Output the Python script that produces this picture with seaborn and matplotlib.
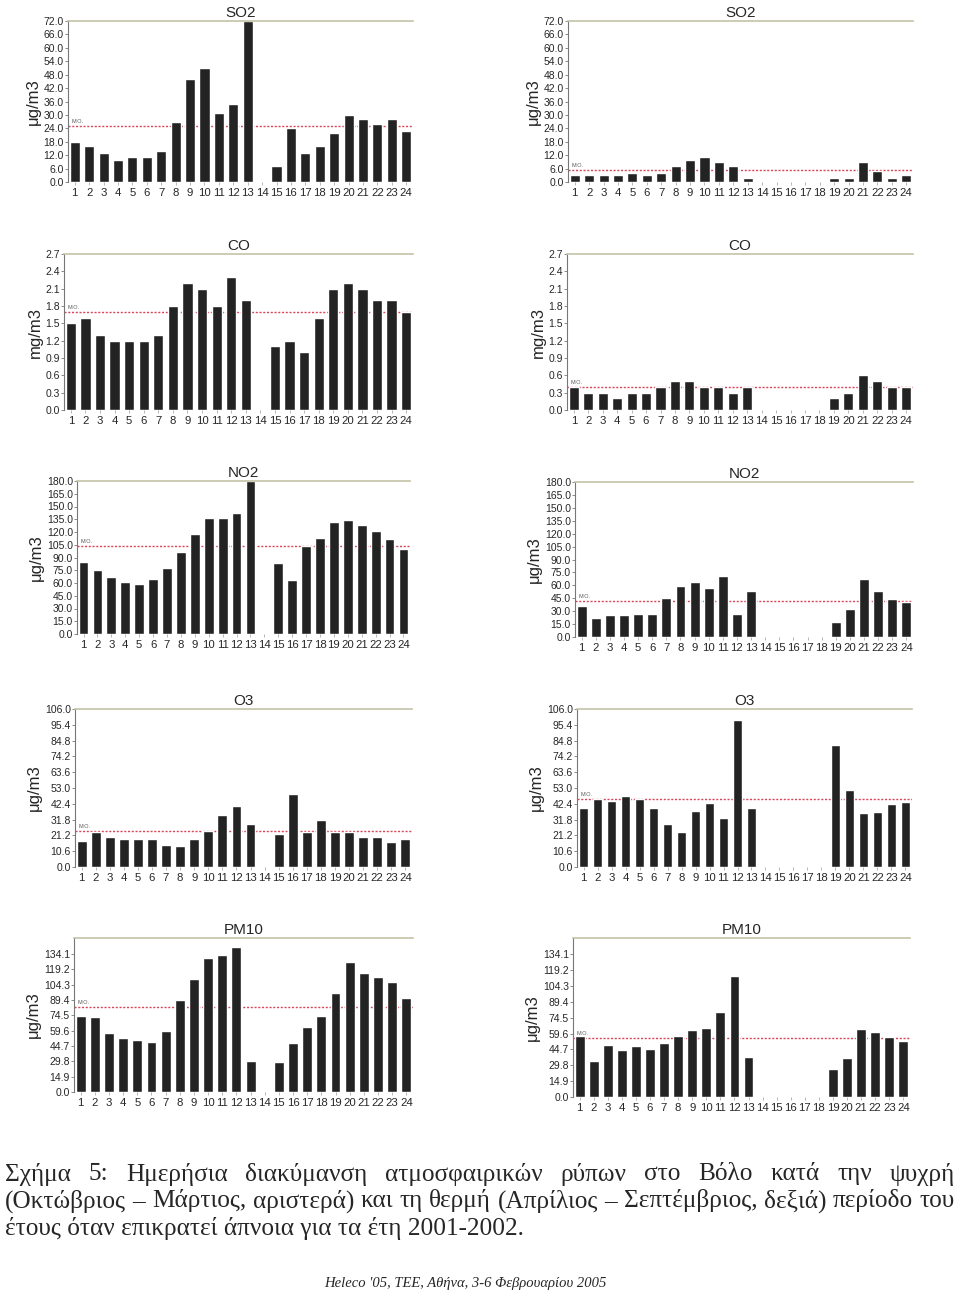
import matplotlib
matplotlib.use("Agg")
import matplotlib.pyplot as plt
import seaborn as sns
import numpy as np
import pandas as pd

nan = np.nan
hours = list(range(1, 25))

# cold period (left) / warm period (right), 24 hourly means, nan = no data
so2_cold = [18, 16, 13, 10, 11, 11, 14, 27, 46, 51, 31, 35, 72, nan, 7, 24, 13, 16, 22, 30, 28, 26, 28, 23]
so2_warm = [3, 3, 3, 3, 4, 3, 4, 7, 10, 11, 9, 7, 2, nan, nan, nan, nan, nan, 2, 2, 9, 5, 2, 3]
co_cold = [1.5, 1.6, 1.3, 1.2, 1.2, 1.2, 1.3, 1.8, 2.2, 2.1, 1.8, 2.3, 1.9, nan, 1.1, 1.2, 1.0, 1.6, 2.1, 2.2, 2.1, 1.9, 1.9, 1.7]
co_warm = [0.4, 0.3, 0.3, 0.2, 0.3, 0.3, 0.4, 0.5, 0.5, 0.4, 0.4, 0.3, 0.4, nan, nan, nan, nan, nan, 0.2, 0.3, 0.6, 0.5, 0.4, 0.4]
no2_cold = [85, 75, 67, 61, 59, 65, 78, 96, 118, 137, 136, 142, 180, nan, 83, 64, 103, 113, 132, 134, 128, 121, 112, 100]
no2_warm = [36, 22, 25, 25, 27, 27, 45, 59, 64, 57, 71, 27, 54, nan, nan, nan, nan, nan, 17, 32, 67, 53, 44, 41]
o3_cold = [17.5, 23.8, 20, 18.6, 18.6, 18.6, 14.6, 13.9, 18.6, 24.2, 34.7, 40.8, 28.7, nan, 22.4, 48.9, 23.8, 31.4, 23.8, 23.8, 20, 20, 16.8, 18.6]
o3_warm = [39.7, 45.5, 44.6, 47.7, 45.5, 39.7, 28.7, 23.8, 37.7, 42.8, 32.7, 98.4, 39.7, nan, nan, nan, nan, nan, 81.6, 51.8, 35.9, 36.8, 42.6, 43.7]
pm10_cold = [74, 73, 57, 52, 50.6, 48.7, 59, 89, 110, 130, 133, 140.6, 30, nan, 29, 48, 62.7, 74, 96, 126, 116, 112, 106.8, 91]
pm10_warm = [57, 34, 49, 44.5, 48, 45.4, 51.2, 57.2, 63, 65, 79.8, 114, 37.8, nan, nan, nan, nan, nan, 26.4, 36.9, 64, 61, 56, 52.7]

# M.O. (mean) reference lines
mo_cold = [25, 1.7, 103.5, 24, 83]
mo_warm = [5.2, 0.4, 41.7, 45.9, 55.3]

titles = ["SO2", "CO", "NO2", "O3", "PM10"]
units = ["μg/m3", "mg/m3", "μg/m3", "μg/m3", "μg/m3"]
tick_step = [6.0, 0.3, 15.0, 10.6, 14.9]
tick_max = [72.0, 2.7, 180.0, 106.0, 134.1]
y_top = [72.0, 2.7, 180.0, 106.0, 149.5]

cold = [so2_cold, co_cold, no2_cold, o3_cold, pm10_cold]
warm = [so2_warm, co_warm, no2_warm, o3_warm, pm10_warm]

W, H = 960, 1295
# axes boxes in pixels: (left, right, top, bottom)
boxes_left = [(68, 413, 21, 182), (64, 413, 254, 410), (77, 410, 481, 634), (75, 412, 709, 867), (74, 413, 938, 1092)]
boxes_right = [(568, 913, 21, 182), (567, 913, 254, 410), (575, 913, 482, 637), (577, 912, 709, 867), (573, 910, 938, 1097)]

sns.set_theme(style="white")
plt.rcParams["font.family"] = ["Liberation Sans", "DejaVu Sans"]

fig = plt.figure(figsize=(W / 100, H / 100), dpi=100)


def panel(box, values, mo, i):
    l, r, t, b = box
    ax = fig.add_axes([l / W, 1 - b / H, (r - l) / W, (b - t) / H])
    df = pd.DataFrame({"hour": hours, "value": values})
    sns.barplot(data=df, x="hour", y="value", order=hours, color="#232323",
                saturation=1, width=0.7, errorbar=None, ax=ax)
    ax.set_xlim(-0.47, 23.47)
    ax.set_ylim(0, y_top[i])
    ticks = np.round(np.arange(0, tick_max[i] + 1e-6, tick_step[i]), 2)
    ax.set_yticks(ticks)
    ax.set_yticklabels([f"{v:.1f}" for v in ticks])
    ax.axhline(mo, color="#d9465a", lw=1.0, ls=(0, (1.5, 1.2)), zorder=0.5)
    ax.text(-0.2, mo + y_top[i] * 0.012, "M.O.", fontsize=4, color="#555555", va="bottom")
    ax.set_title(titles[i], fontsize=11, pad=3)
    ax.set_xlabel("")
    ax.set_ylabel(units[i], fontsize=12, labelpad=2)
    for s in ["right", "bottom"]:
        ax.spines[s].set_visible(False)
    ax.spines["top"].set_color("#c3c3a8")
    ax.spines["top"].set_linewidth(1.2)
    ax.spines["left"].set_color("#777777")
    ax.spines["left"].set_linewidth(0.8)
    ax.tick_params(axis="y", labelsize=7.5, length=2, width=0.6, pad=1, left=True, color="#777777")
    ax.tick_params(axis="x", labelsize=8.2, length=2, width=0.5, pad=2, bottom=True, color="#999999")
    return ax


for i in range(5):
    panel(boxes_left[i], cold[i], mo_cold[i], i)
    panel(boxes_right[i], warm[i], mo_warm[i], i)

# caption, justified like the source document
caption = [
    "Σχήμα 5: Ημερήσια διακύμανση ατμοσφαιρικών ρύπων στο Βόλο κατά την ψυχρή",
    "(Οκτώβριος – Μάρτιος, αριστερά) και τη θερμή (Απρίλιος – Σεπτέμβριος, δεξιά) περίοδο του",
    "έτους όταν επικρατεί άπνοια για τα έτη 2001-2002.",
]
cap_y = [1174, 1201, 1228]
cap_size = 18.2
x0, x1 = 5, 955
serif = ["Liberation Serif", "DejaVu Serif"]
renderer = fig.canvas.get_renderer()
for k, line in enumerate(caption):
    y = 1 - cap_y[k] / H
    if k == len(caption) - 1:
        fig.text(x0 / W, y, line, family=serif, fontsize=cap_size, va="center", ha="left")
        continue
    words = line.split(" ")
    objs = [fig.text(0, y, w, family=serif, fontsize=cap_size, va="center", ha="left") for w in words]
    widths = [o.get_window_extent(renderer).width for o in objs]
    gap = max(((x1 - x0) - sum(widths)) / (len(words) - 1), 3)
    x = x0
    for o, w in zip(objs, widths):
        o.set_x(x / W)
        x += w + gap

fig.text(465 / W, 1 - 1283 / H, "Heleco '05, ΤΕΕ, Αθήνα, 3-6 Φεβρουαρίου 2005",
         family=serif, style="italic", fontsize=10.5, ha="center", va="center")

fig.savefig("out.png", dpi=100)
